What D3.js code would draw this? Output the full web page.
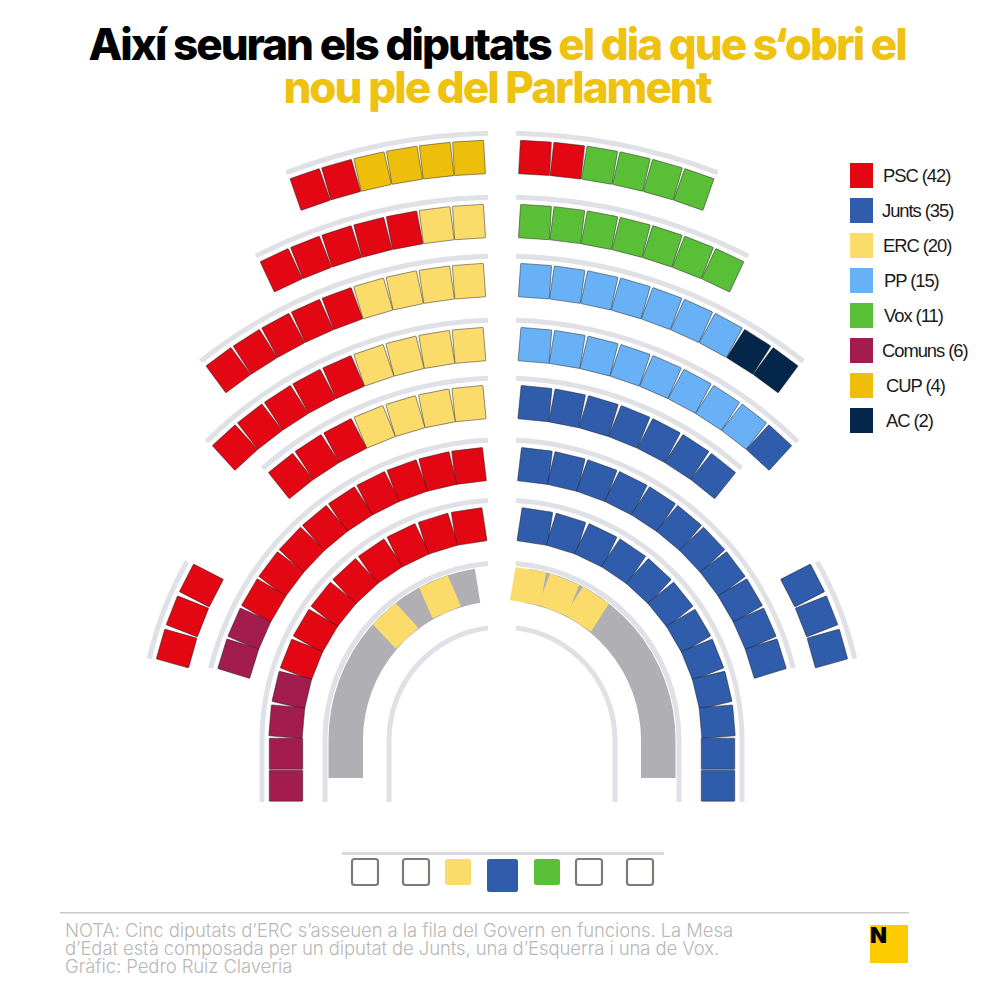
<!doctype html>
<html>
<head>
  <title>Així seuran els diputats</title>
  <script src="https://d3js.org/d3.v7.min.js"></script>
  <style>
    body { margin:0; background:#fff; }
  </style>
</head>
<body>
  <script>
    // legend
    var parties = ["PSC", "Junts", "ERC", "PP", "Vox", "Comuns", "CUP", "AC"];
    var partySeats = [42, 35, 20, 15, 11, 6, 4, 2];
    var partyColors = ["#e30613", "#2f5dab", "#fbdc6b", "#68b1f7", "#59bf37", "#a21d4e", "#eebf0a", "#03264a"];
    var legendNudge = [0, -1, 0, 1, 1, -1, 3, 3];

    // seats per row as [party, count], from the centre aisle outwards, inner row first
    var leftRows = [
      [["PSC", 8], ["Comuns", 4]],
      [["PSC", 9], ["Comuns", 2]],
      [["ERC", 4], ["PSC", 3]],
      [["ERC", 4], ["PSC", 5]],
      [["ERC", 4], ["PSC", 5]],
      [["ERC", 2], ["PSC", 5]],
      [["CUP", 4], ["PSC", 2]]
    ];
    var rightRows = [
      [["Junts", 12]],
      [["Junts", 11]],
      [["Junts", 7]],
      [["PP", 8], ["Junts", 1]],
      [["PP", 7], ["AC", 2]],
      [["Vox", 7]],
      [["PSC", 2], ["Vox", 4]]
    ];
    var leftSide = ["PSC", "PSC", "PSC"];
    var rightSide = ["Junts", "Junts", "Junts"];
    var leftGovern = [null, "ERC", null, "ERC"];
    var rightGovern = ["ERC", "ERC", "ERC"];
    var mesaSeats = [null, null, "ERC", "Junts", "Vox", null, null];

    // texts
    var titleBlack = "Així seuran els diputats ";
    var titleGold = ["el dia que s‘obri el", "nou ple del Parlament"];
    var noteLines = [
      "NOTA: Cinc diputats d’ERC s’asseuen a la fila del Govern en funcions. La Mesa",
      "d’Edat està composada per un diputat de Junts, una d’Esquerra i una de Vox.",
      "Gràfic: Pedro Ruiz Claveria"
    ];

    // layout of the hemicycle
    var cx = 502, cy = 740, railBottom = 802;
    var rowRails = [240, 300, 362, 420, 484, 543, 607];
    var rowPitch = [32, 31.8, 32.5, 32.5, 32.5, 32.5, 32.5];
    var benchRails = [113, 177];
    var seatInset = 24, aisleOffset = 33;
    var deg = Math.PI / 180;

    var width = 1000, height = 1000;
    var svg = d3.select("body").append("svg")
      .attr("width", width)
      .attr("height", height)
      .style("display", "block");

    var color = d3.scaleOrdinal().domain(parties).range(partyColors);
    var railColor = "#e0e1e6";

    var stage = svg.append("g").attr("transform", "translate(" + cx + "," + cy + ")");
    var railArc = d3.arc();

    // a rail on one side, between two angles; the long ones run straight down at the end
    function drawRail(side, r, from, to, straight) {
      var a = railArc({innerRadius: r - 2.5, outerRadius: r + 2.5,
        startAngle: side * from, endAngle: side * to});
      stage.append("path").attr("d", a).attr("fill", railColor);
      if (straight) {
        stage.append("rect")
          .attr("x", side * r - 2.5)
          .attr("y", 0)
          .attr("width", 5)
          .attr("height", railBottom - cy)
          .attr("fill", railColor);
      }
    }

    function aisleAngle(r) { return Math.asin(14 / r); }

    // turn a list of parties into seats, the angle comes from a scale on the seat index
    function placeSeats(list, side, r, startAngle, stepAngle) {
      var angle = d3.scaleLinear().domain([0, 1]).range([startAngle, startAngle + stepAngle]);
      return list.map(function(party, i) {
        var a = angle(i);
        // past the quarter circle the row keeps going straight down
        var over = Math.max(0, a - Math.PI / 2);
        var p = d3.pointRadial(side * Math.min(a, Math.PI / 2), r);
        return {party: party, x: p[0], y: p[1] + over * r, rot: side * Math.min(a, Math.PI / 2) / deg};
      }).filter(function(d) { return d.party; });
    }

    function expand(row) {
      return d3.merge(row.map(function(d) { return d3.range(d[1]).map(function() { return d[0]; }); }));
    }

    function drawSeats(seats, stroked) {
      stage.append("g").selectAll("rect")
        .data(seats)
        .enter()
        .append("rect")
        .attr("x", -15.5)
        .attr("y", -16.75)
        .attr("width", 31)
        .attr("height", 33.5)
        .attr("rx", 0.6)
        .attr("transform", function(d) { return "translate(" + d.x + "," + d.y + ") rotate(" + d.rot + ")"; })
        .attr("fill", function(d) { return color(d.party); })
        .attr("stroke", stroked ? "#1d1a1a" : "none")
        .attr("stroke-opacity", 0.65)
        .attr("stroke-width", 0.7);
    }

    // inner rails and the grey government band
    benchRails.forEach(function(r) {
      [-1, 1].forEach(function(side) { drawRail(side, r, aisleAngle(r), Math.PI / 2, true); });
    });
    [-1, 1].forEach(function(side) {
      stage.append("path")
        .attr("d", railArc({innerRadius: 139, outerRadius: 173.5,
          startAngle: side * 9 * deg, endAngle: side * Math.PI / 2}))
        .attr("fill", "#afafb4");
      stage.append("rect")
        .attr("x", side > 0 ? 139 : -173.5)
        .attr("y", 0)
        .attr("width", 34.5)
        .attr("height", 38)
        .attr("fill", "#afafb4");
    });
    drawSeats(placeSeats(leftGovern, -1, 156, 13.6 * deg, 9.8 * deg), false);
    drawSeats(placeSeats(rightGovern, 1, 156, 9.6 * deg, 11.7 * deg), false);

    // main rows
    rowRails.forEach(function(rail, i) {
      var r = rail - seatInset;
      var start = aisleOffset / r;
      var step = rowPitch[i] / r;
      [[-1, leftRows[i]], [1, rightRows[i]]].forEach(function(s) {
        var list = expand(s[1]);
        var end = start + step * (list.length - 0.5);
        drawRail(s[0], rail, aisleAngle(rail), Math.min(end, Math.PI / 2), end > Math.PI / 2);
        drawSeats(placeSeats(list, s[0], r, start, step), true);
      });
    });

    // the three loose seats at each end of the third row
    [[-1, leftSide], [1, rightSide]].forEach(function(s) {
      drawRail(s[0], rowRails[2], 60.5 * deg, 77 * deg, false);
      drawSeats(placeSeats(s[1], s[0], rowRails[2] - seatInset, 62.8 * deg, 5.75 * deg), true);
    });

    // Mesa
    var mesaX = d3.scaleLinear().domain([0, 1, 2, 4, 5, 6]).range([365, 416, 458, 547, 589, 640]);
    svg.append("rect")
      .attr("x", 342).attr("y", 852)
      .attr("width", 322).attr("height", 3)
      .attr("fill", "#d9dadf");
    svg.append("g").selectAll("rect")
      .data(mesaSeats)
      .enter()
      .append("rect")
      .attr("x", function(d, i) { return mesaX(i) - (i == 3 ? 15.5 : 13); })
      .attr("y", 859)
      .attr("width", function(d, i) { return i == 3 ? 31 : 26; })
      .attr("height", function(d, i) { return i == 3 ? 33 : 26; })
      .attr("rx", 2.5)
      .attr("fill", function(d) { return d ? color(d) : "#fff"; })
      .attr("stroke", function(d) { return d ? "none" : "#7f7a76"; })
      .attr("stroke-width", 2.2);

    // legend
    var legendY = d3.scaleLinear().domain([0, parties.length - 1]).range([175.5, 420.5]);
    var legend = svg.append("g").selectAll("g")
      .data(parties)
      .enter()
      .append("g")
      .attr("transform", function(d, i) { return "translate(850," + legendY(i) + ")"; });
    legend.append("rect")
      .attr("y", -12.5)
      .attr("width", 23)
      .attr("height", 25)
      .attr("fill", function(d) { return color(d); });
    legend.append("text")
      .attr("x", function(d, i) { return 33 + legendNudge[i]; })
      .attr("y", 6)
      .attr("font-family", "Liberation Sans")
      .attr("font-size", 18.4)
      .attr("letter-spacing", -1.05)
      .attr("fill", "#1a1a1a")
      .text(function(d, i) { return d + " (" + partySeats[i] + ")"; });

    // title
    var title = svg.append("text")
      .attr("text-anchor", "middle")
      .attr("font-family", "Inter")
      .attr("font-weight", 800)
      .attr("font-size", 44)
      .attr("letter-spacing", -2);
    var line1 = title.append("tspan").attr("x", 497).attr("y", 60);
    line1.append("tspan").attr("fill", "#000").text(titleBlack);
    line1.append("tspan").attr("fill", "#eec20e").text(titleGold[0]);
    title.append("tspan").attr("x", 497).attr("y", 103)
      .attr("fill", "#eec20e").text(titleGold[1]);

    // footer
    svg.append("rect").attr("x", 60).attr("y", 912).attr("width", 849).attr("height", 1.5).attr("fill", "#c9c9c9");
    svg.append("g").selectAll("text")
      .data(noteLines)
      .enter()
      .append("text")
      .attr("x", 65)
      .attr("y", function(d, i) { return 937 + i * 18; })
      .attr("font-family", "Inter")
      .attr("font-weight", 300)
      .attr("font-size", 18.5)
      .attr("letter-spacing", -0.09)
      .attr("fill", "#b8b8b8")
      .text(function(d) { return d; });

    svg.append("rect").attr("x", 870).attr("y", 925).attr("width", 38).attr("height", 38).attr("fill", "#fecb00");
    svg.append("text")
      .attr("x", 870).attr("y", 943)
      .attr("font-family", "Inter")
      .attr("font-weight", 900)
      .attr("font-size", 22)
      .attr("fill", "#000")
      .text("N");
  </script>
</body>
</html>
